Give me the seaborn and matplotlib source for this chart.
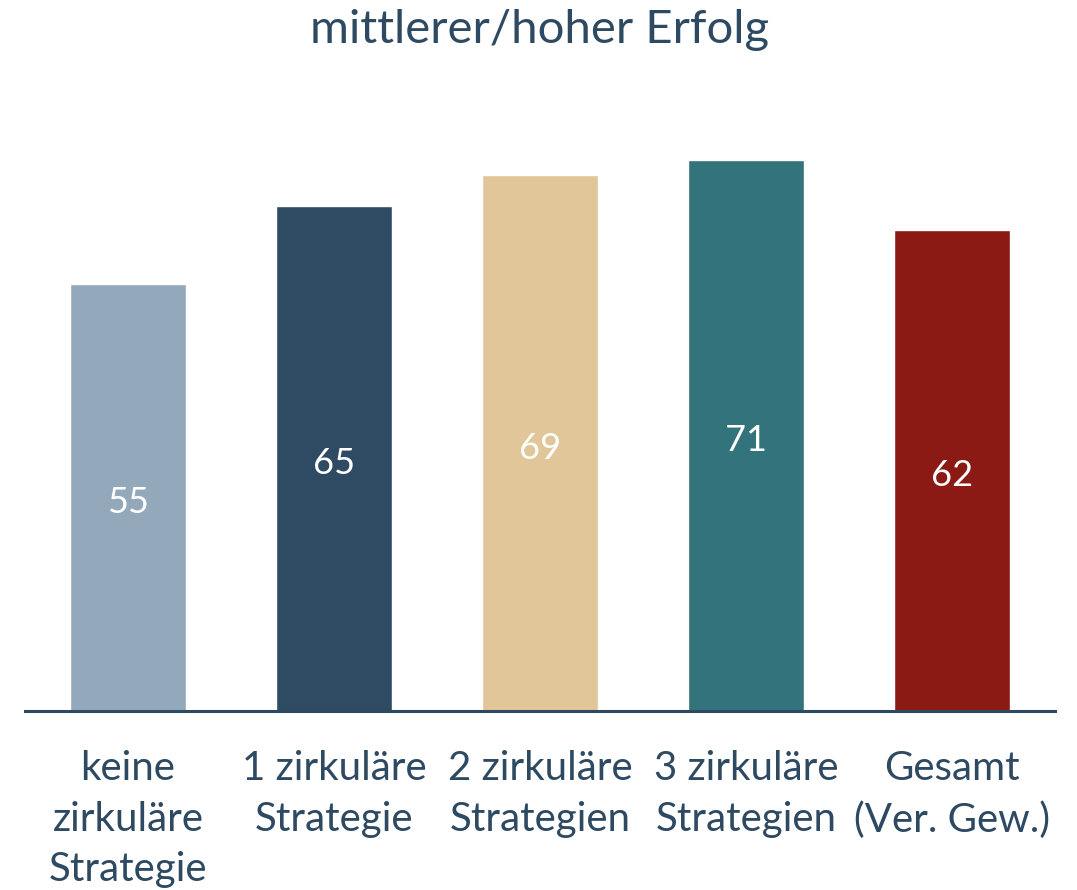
import matplotlib
matplotlib.use("Agg")
import matplotlib.pyplot as plt
import seaborn as sns
import pandas as pd

categories = ["keine\nzirkuläre\nStrategie", "1 zirkuläre\nStrategie", "2 zirkuläre\nStrategien",
              "3 zirkuläre\nStrategien", "Gesamt\n(Ver. Gew.)"]
values = [55, 65, 69, 71, 62]
colors = ["#94a8bc", "#2f4a63", "#e0c698", "#33737b", "#8b1a14"]
title = "mittlerer/hoher Erfolg"

sns.set_style("white")
plt.rcParams['font.family'] = ['Lato', 'DejaVu Sans']
navy = "#2e4a63"

df = pd.DataFrame({"cat": categories, "val": values})
fig = plt.figure(figsize=(10.77, 8.90), dpi=100)
ax = fig.add_axes([25/1077, 179/890, 1030/1077, 621/890])
sns.barplot(data=df, x="cat", y="val", hue="cat", palette=colors, legend=False,
            width=0.56, saturation=1, ax=ax)
ax.set_xlim(-0.5, 4.5)
ax.set_ylim(0, 80)
for s in ["top", "right", "left"]:
    ax.spines[s].set_visible(False)
ax.spines["bottom"].set_color(navy)
ax.spines["bottom"].set_linewidth(2.2)
ax.set_yticks([])
ax.set_xlabel("")
ax.set_ylabel("")
ax.tick_params(axis="x", length=0, pad=28, labelsize=29, labelcolor=navy)
for lab in ax.get_xticklabels():
    lab.set_linespacing(1.46)
for i, v in enumerate(values):
    ax.annotate(f"{v}", xy=(i, v / 2), xytext=(0, -3.5), textcoords="offset points",
                ha="center", va="center", color="white", fontsize=26)
fig.text(540/1077, 1 - 30/890, title, ha="center", va="center", color=navy, fontsize=34)
fig.savefig("out.png", dpi=100)
